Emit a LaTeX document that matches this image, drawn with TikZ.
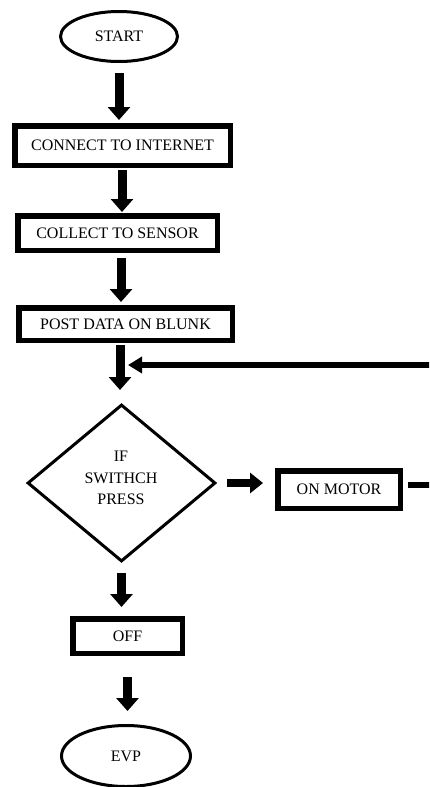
\documentclass[tikz,border=0pt]{standalone}
\usepackage{fontspec}
\setmainfont{Liberation Serif}
\usetikzlibrary{arrows.meta,shapes.geometric}
\begin{document}
\begin{tikzpicture}[x=1pt,y=-1pt,
  every node/.style={font=\fontsize{16}{21.5}\selectfont, text=black},
  procbox/.style={draw, rectangle, line width=5.5pt, inner sep=0pt},
  terminal/.style={draw, ellipse, line width=3pt, inner sep=0pt},
  decision/.style={draw, diamond, line width=3pt, inner sep=0pt},
  bigarrow/.style={line width=9pt, -{Triangle[width=22pt,length=13pt]}},
  sidearrow/.style={line width=8pt, -{Triangle[width=20pt,length=13pt]}},
  loopline/.style={line width=6pt, -{Triangle[width=16pt,length=14pt]}}
]
% canvas
\clip (0,0) rectangle (429,787);
\fill[white] (0,0) rectangle (429,787);

% flowchart blocks
\node[terminal, minimum width=117pt, minimum height=50pt] (start) at (119,36.5) {START};
\node[procbox, minimum width=215.5pt, minimum height=39.5pt] (connect) at (122.5,145.5) {CONNECT TO INTERNET};
\node[procbox, minimum width=199.5pt, minimum height=34.5pt] (collect) at (117.5,233) {COLLECT TO SENSOR};
\node[procbox, minimum width=213.5pt, minimum height=32.5pt] (post) at (125.5,324) {POST DATA ON BLUNK};
\node[decision, minimum width=188pt, minimum height=157pt] (decide) at (121.5,483) {};
\node[align=center, inner sep=0pt] (decidetext) at (121,478) {IF\\SWITHCH\\PRESS};
\node[procbox, minimum width=122.5pt, minimum height=37.5pt] (motor) at (339,489.5) {ON MOTOR};
\node[procbox, minimum width=109.5pt, minimum height=34.5pt] (off) at (127.5,636) {OFF};
\node[terminal, minimum width=129pt, minimum height=61pt] (evp) at (126,756) {EVP};

% helper points for the return loop
\coordinate (motorout) at (408,485);
\coordinate (loopcorner) at (450,485);
\coordinate (loopjoin) at (128,365);

% main flow
\draw[bigarrow] ([yshift=-10pt]start.south) -- ([yshift=3pt]start.south |- connect.north);
\draw[bigarrow] ([xshift=-0.5pt,yshift=-2pt]connect.south) -- ([xshift=-0.5pt,yshift=1pt]connect.south |- collect.north);
\draw[bigarrow] ([xshift=3.5pt,yshift=-5pt]collect.south) -- ([xshift=3.5pt,yshift=3pt]collect.south |- post.north);
\draw[bigarrow] ([xshift=-5.5pt,yshift=-2pt]post.south) -- ([xshift=-5.5pt,yshift=13pt]post.south |- decide.north);
\draw[sidearrow] ([xshift=10pt]decide.east) -- ([xshift=-12pt]decide.east -| motor.west);
\draw[bigarrow] ([yshift=-10pt]decide.south) -- ([yshift=9pt]decide.south |- off.north);
\draw[bigarrow] ([yshift=-21pt]off.south) -- ([yshift=13pt]off.south |- evp.north);

% return from the motor back into the flow
\draw[loopline] (motorout) -- (loopcorner) |- (loopjoin);
\end{tikzpicture}
\end{document}
